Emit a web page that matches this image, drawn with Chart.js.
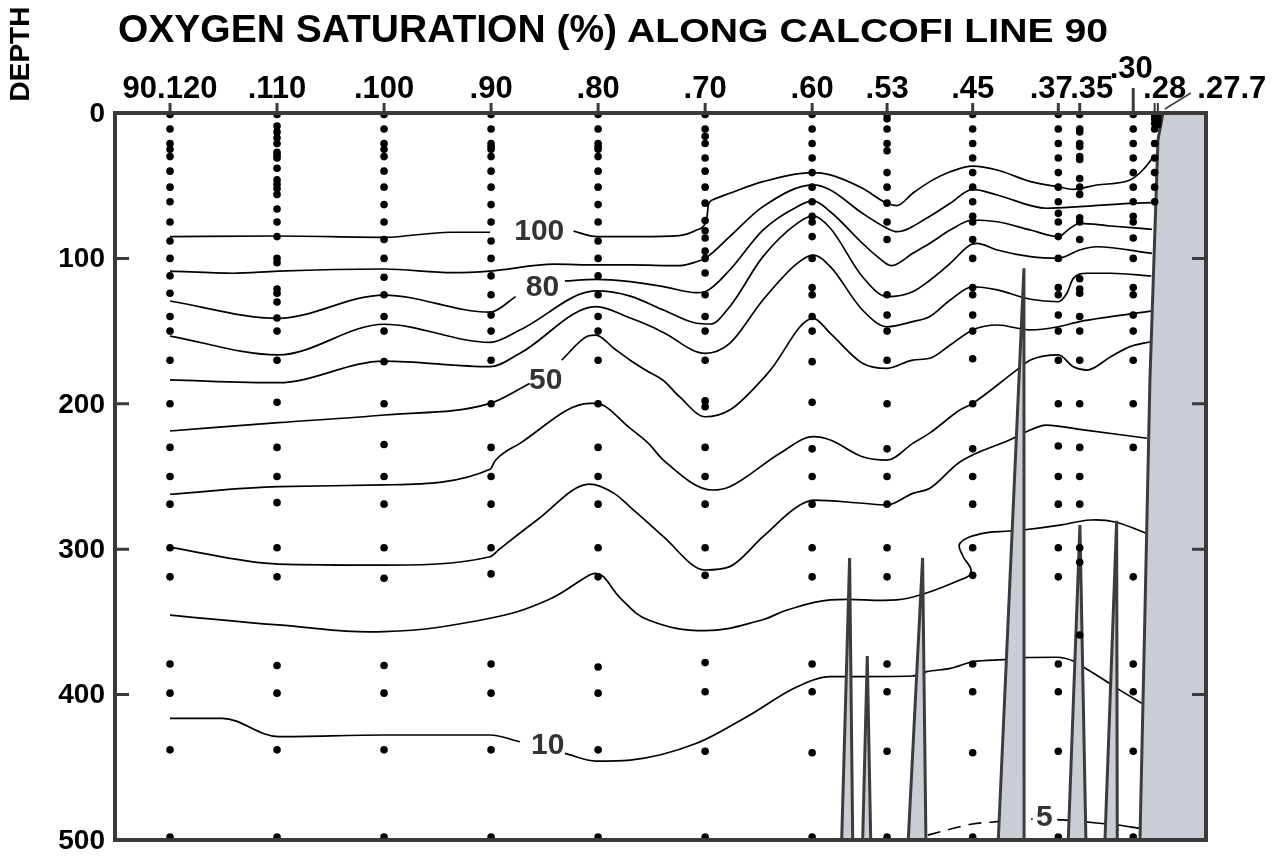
<!DOCTYPE html>
<html><head><meta charset="utf-8">
<script src="https://cdn.jsdelivr.net/npm/chart.js@4.4.1/dist/chart.umd.min.js"></script>
<style>
html,body{margin:0;padding:0;background:#fff;}
#wrap{position:relative;width:1276px;height:858px;}
</style></head>
<body><div id="wrap"><canvas id="c"></canvas></div>
<script>
// ---- stations along CalCOFI line 90 (station number) ----
const stations = [120,110,100,90,80,70,60,53,45,37,35,30,28,27.7];
const stationLabels = ['90.120','.110','.100','.90','.80','.70','.60','.53','.45','.37','.35','.30','.28','.27.7'];
const depthTicks = [0,100,200,300,400,500];

// ---- bottle sample depths (m) per station ----
const bottles120 = [1,11,21,25,30,40,51,61,75,88,100,112,124,140,150,170,200,230,250,269,299,319,379,399,438,498];
const bottles110 = [1,9,13,17,21,27,29,31,38,46,49,52,56,66,75,85,100,103,121,124,130,141,150,170,199,230,250,268,299,319,380,399,438,498];
const bottles100 = [1,11,21,25,30,40,51,63,75,87,100,113,125,140,150,171,200,228,250,269,299,320,380,399,438,498];
const bottles90 = [1,11,21,23,25,30,40,51,63,75,88,100,112,125,139,150,170,200,230,250,269,299,317,379,399,438,498];
const bottles80 = [1,11,21,23,25,30,40,51,63,75,88,100,112,125,140,150,170,200,230,250,269,299,319,381,399,438,498];
const bottles70 = [1,11,16,21,31,40,51,62,74,81,86,95,100,110,125,140,150,170,198,202,230,250,269,299,318,378,398,439,498];
const bottles60 = [1,11,21,31,41,51,61,71,75,85,100,120,125,140,150,171,199,231,250,269,299,319,379,398,440,498];
const bottles53 = [1,4,11,21,26,41,51,62,75,87,125,139,150,170,200,231,250,269,299,319,379,398,439,498];
const bottles45 = [1,11,21,31,41,51,61,71,75,87,100,120,125,139,150,169,200,231,250,269,299,318,379,398,440,498];
const bottles37 = [1,11,21,31,41,51,61,69,75,85,100,120,125,139,150,170,200,229,250,269,299,319,379,398,439,498];
const bottles35 = [1,11,13,21,23,30,32,45,51,56,72,75,87,114,121,124,140,150,170,200,230,250,269,299,309,359];
const bottles30 = [1,11,21,31,41,51,61,71,75,86,100,120,125,139,150,170,200,230,319,379,398,439,498];
const bottles28 = [1,4,7,11,21,31,41,51,61];
const bottles277 = [1,3,5,8];

// ---- oxygen saturation contours: [station, depth] ----
const o2_100a = [[120,85],[109.9,84.6],[100,85.5],[93.8,82],[90.1,82]];
const o2_100b = [[82.3,81.2],[80.1,85],[76.1,85],[72.4,84.3],[70.8,80.5],[70.0,75.9],[69.8,70],[69.7,63.3],[69.2,59.4],[67.7,55.2],[64.6,47.2],[59.9,41],[58.3,42.6],[55.3,51.8],[53.0,62.1],[52.1,63.7],[50.6,55.2],[49.0,47.2],[47.1,40.4],[45.0,36.5],[42.7,39.2],[39.6,47.2],[37.0,50.7],[35.6,52.5],[33.4,49.5],[30.3,46.1],[29.1,39.2],[28.2,31.2],[27.8,28.9]];
const o2_90 = [[120,108.7],[114.1,110.2],[109.9,108.7],[100,107.3],[93.6,109.8],[90.1,108.7],[84.1,104],[80.2,104.5],[77.0,104.5],[72.4,105],[70.8,102.3],[70.0,100],[67.7,85],[64.6,64.4],[59.9,49.5],[58.3,53],[55.3,69],[53.0,79.3],[52.1,81.6],[49.0,71],[47.1,62.1],[45.0,52.5],[42.7,56.4],[38.1,65.5],[35.0,64.4],[30.3,62.1],[28.2,61.7]];
const o2_80a = [[120,129.3],[109.9,141.2],[100,125.2],[90.1,137],[87.7,126.3]];
const o2_80b = [[83.1,115.5],[80.2,114.4],[77.0,116],[73.9,119.4],[70.8,123.6],[70.0,122.9],[67.7,108],[64.6,80.5],[61.4,64.4],[59.9,60.5],[58.3,67.9],[55.3,89.6],[53.9,98.8],[52.6,105],[50.6,96.5],[49.0,89.6],[47.1,80.5],[45.0,73.6],[42.7,74.8],[39.6,80.5],[37.0,85],[35.9,79.3],[35.0,75.9],[32.1,77.7],[28.25,80]];
const o2_70 = [[120,153.4],[109.9,166.4],[100,145.3],[90.1,157.7],[87.3,149.2],[80.2,122.4],[77.0,125.9],[73.9,135.5],[70.8,144.6],[69.5,145.1],[67.7,133.2],[64.6,98.8],[61.4,75.9],[59.9,70.8],[58.3,79.3],[55.3,112.6],[53.0,126.3],[50.6,122.9],[49.0,115],[47.1,103.4],[45.25,90.8],[44.6,89.6],[42.7,94.2],[39.6,98.8],[37.0,99.9],[35.0,94.2],[33.4,92],[28.25,96.5]];
const o2_60 = [[120,183.6],[109.9,185.5],[100,170.6],[90.1,174.5],[87.3,165.3],[80.2,133.2],[77.0,141],[75.3,146],[73.9,151],[70.0,165.3],[67.7,158.4],[64.6,128.6],[61.4,103.4],[59.9,97.7],[58.3,105.7],[55.3,135.5],[53.0,147],[50.6,143.5],[49.0,140],[47.1,128.6],[45.0,119.5],[42.7,121.7],[39.6,128.1],[37.0,129.8],[36.2,124],[35.6,113.7],[34.3,110.2],[32.1,110.2],[28.3,112.1]];
const o2_50a = [[120,218.7],[109.9,213],[100,207.7],[90.1,199.7],[86.4,186]];
const o2_50b = [[83.4,169.9],[80.95,153.4],[80.2,152.7],[78.5,162],[77.0,170],[75.3,178],[73.9,184],[72.4,195.1],[70.0,208.9],[67.7,204.3],[64.7,183.6],[63.9,176.8],[59.9,141.2],[58.3,151.5],[55.3,172.1],[53.0,175.6],[50.6,169.9],[49.0,168.7],[47.1,159.6],[45.0,149.2],[42.7,145.8],[39.6,149.2],[37.0,147],[35.0,143.5],[32.1,140.1],[28.3,136.2]];
const o2_40 = [[120,262.2],[109.9,257],[100,255.8],[90.1,245],[89.6,239],[87.3,227.2],[80.8,199.7],[80.2,199.7],[77.0,216.9],[75.3,227.2],[73.9,238.7],[69.3,259.3],[67.7,257],[63.0,234],[59.9,222.6],[58.3,224.9],[55.3,236.4],[53.0,238.7],[50.6,227.2],[49.0,220],[46.2,204.3],[45.0,199.7],[40.9,176.8],[39.6,169.9],[37.0,166.4],[35.6,174.5],[34.3,176.8],[32.1,167.6],[30.3,160.7],[28.4,157.3]];
const o2_30 = [[120,298.7],[109.9,310.2],[100,310.9],[90.1,305.2],[89.3,300.5],[85.7,279.9],[80.8,255.2],[78.5,261.6],[77.0,271],[75.3,282],[73.9,291.4],[70.0,314.3],[67.7,312],[64.6,291.4],[61.4,270.8],[59.9,266.2],[55.3,268.4],[53.0,269.6],[50.6,261.6],[49.0,258.1],[46.2,240],[41.2,223.7],[40.3,220.3],[38.1,214.6],[35.0,217.6],[28.7,223.7]];
const o2_20 = [[120,345.3],[109.9,352.1],[100,356.7],[90.1,347.5],[84.7,334.9],[80.8,317.7],[80.2,316.6],[79.5,318.9],[77.9,333.8],[75.3,348.7],[70.0,356],[64.7,348.7],[62.35,341.8],[58.3,334.9],[52.1,334.9],[49.4,330.3],[46.2,321.2],[45.3,317.9],[45.2,313],[45.9,305],[46.2,296],[44.3,289.5],[41.5,287.5],[40.3,286.8],[36.85,283.4],[34.0,279.9],[31.7,281.3],[28.4,290.2]];
const o2_10a = [[120,416.3],[115.1,416.3],[109.9,428.9],[100,427.8],[90.1,427.8],[87.3,432.4]];
const o2_10b = [[83.1,440.4],[80.2,445.7],[77.0,445],[70.8,433.5],[66.1,415.2],[61.4,394.6],[58.3,387.7],[57.1,387.7],[50.6,387.2],[49.3,384.2],[47.1,382],[45.0,377.4],[41.8,375.8],[40.3,374.6],[37.1,374.3],[35.6,376.9],[34.7,380.8],[32.45,391.1],[31.5,395.7],[29.2,406]];
const o2_5a = [[49.2,496.6],[46.2,490.9],[45.0,489],[42.7,487.4],[39.4,485.5]];
const o2_5b = [[37.1,486],[35.6,486.7],[34.7,487.4],[32.45,489],[31.5,489.7],[29.4,492]];

// ---- contour labels ----
const contourLabelText = ['100','80','50','10','5'];
const contourLabelStation = [85.5,85.2,84.9,84.7,38.3];
const contourLabelDepth = [81.8,120.4,184.3,435.4,485];

// ---- bathymetry: seamount peaks [left base station, peak station, peak depth, right base station] ----
const seamounts = [[57.24,56.5,306,56.21],[55.28,54.85,373.5,54.53],[51.02,49.68,306,49.37],[42.61,40.21,106.8,40.2],[36.07,34.98,283.4,34.42],[32.64,31.55,280.4,31.49]];
const coastStation = [29.37,28.9,28.44,27.69,27.22];
const coastDepth = [500,341.8,183.6,18.6,0];

// ---- build datasets ----
const bottleSets = [[120,bottles120],[110,bottles110],[100,bottles100],[90,bottles90],[80,bottles80],[70,bottles70],[60,bottles60],[53,bottles53],[45,bottles45],[37,bottles37],[35,bottles35],[30,bottles30],[28,bottles28],[27.7,bottles277]];
const toXY = a => a.map(p => ({x:p[0], y:p[1]}));
const datasets = [];
const dotData = [];
bottleSets.forEach(([s, ds]) => ds.forEach(d => dotData.push({x:s, y:d})));
datasets.push({type:'line', data:dotData, showLine:false, pointRadius:3.8, pointHoverRadius:3.8,
  pointBackgroundColor:'#000', pointBorderWidth:0, order:0, clip:false});

const contourStyle = {type:'line', borderColor:'#000', borderWidth:1.7, pointRadius:0, fill:false,
  cubicInterpolationMode:'monotone', order:3};
[o2_100a,o2_100b,o2_90,o2_80a,o2_80b,o2_70,o2_60,o2_50a,o2_50b,o2_40,o2_30,o2_10a,o2_10b,o2_5b].forEach(c => {
  datasets.push(Object.assign({}, contourStyle, {data:toXY(c)}));
});
datasets.push(Object.assign({}, contourStyle, {data:toXY(o2_20), cubicInterpolationMode:'default', tension:0.4}));
datasets.push(Object.assign({}, contourStyle, {data:toXY(o2_5a), borderDash:[13,8]}));

seamounts.forEach(([l, ps, pd, r]) => {
  datasets.push({type:'line', data:[{x:l,y:500},{x:ps,y:pd},{x:r,y:500}], borderColor:'#3c3c3c', borderWidth:3,
    backgroundColor:'#c9cdd5', fill:{value:500}, pointRadius:0, tension:0, order:1});
});
const coastData = coastStation.map((s,i) => ({x:s, y:coastDepth[i]}));
coastData.push({x:23.2, y:0});
datasets.push({type:'line', data:coastData, borderColor:'#3c3c3c', borderWidth:3, backgroundColor:'#c9cdd5',
  fill:{value:500}, pointRadius:0, tension:0, order:2});

// ---- label layout (pixel nudges for crowded station names) ----
const labelNudge = {'.37':-7, '.35':12, '.30':-2, '.28':10, '.27.7':74};
const FONT = '"Liberation Sans", Arial, Helvetica, sans-serif';

const decor = {
  id:'decor',
  afterDatasetsDraw(chart){
    const {ctx, chartArea:a, scales:{x, y}} = chart;
    ctx.save();
    // contour labels
    ctx.font = 'bold 30px ' + FONT;
    ctx.fillStyle = '#333'; ctx.textAlign = 'center'; ctx.textBaseline = 'middle';
    contourLabelText.forEach((t,i) => ctx.fillText(t, x.getPixelForValue(contourLabelStation[i]), y.getPixelForValue(contourLabelDepth[i])));
    // frame
    ctx.strokeStyle = '#3a3a3a'; ctx.lineWidth = 4;
    ctx.strokeRect(a.left, a.top, a.right - a.left, a.bottom - a.top);
    // depth ticks (inward, both sides)
    ctx.lineWidth = 3;
    depthTicks.forEach(v => {
      if (v === 0 || v === 500) return;
      const py = y.getPixelForValue(v);
      ctx.beginPath();
      ctx.moveTo(a.left, py); ctx.lineTo(a.left + 14, py);
      ctx.moveTo(a.right, py); ctx.lineTo(a.right - 14, py);
      ctx.stroke();
    });
    // depth labels
    ctx.fillStyle = '#000'; ctx.font = 'bold 28px ' + FONT;
    ctx.textAlign = 'right'; ctx.textBaseline = 'middle';
    depthTicks.forEach(v => ctx.fillText(String(v), a.left - 10, y.getPixelForValue(v) + 1));
    // station ticks & labels
    ctx.font = 'bold 31px ' + FONT; ctx.textAlign = 'center'; ctx.textBaseline = 'alphabetic';
    stations.forEach((s,i) => {
      const px = x.getPixelForValue(s);
      const lab = stationLabels[i];
      const raised = lab === '.30';
      const near = lab === '.28' || lab === '.27.7';
      ctx.lineWidth = near ? 2 : 3;
      ctx.beginPath(); ctx.moveTo(px, a.top); ctx.lineTo(px, a.top - (raised ? 25 : 10)); ctx.stroke();
      const lx = px + (labelNudge[lab] || 0);
      ctx.fillText(lab, lx, raised ? a.top - 35 : a.top - 15);
      if (lab === '.27.7') {
        ctx.lineWidth = 1.5;
        ctx.beginPath(); ctx.moveTo(px + 7, a.top - 4); ctx.lineTo(px + 33, a.top - 20); ctx.stroke();
      }
    });
    // title
    ctx.textAlign = 'left'; ctx.fillStyle = '#000';
    ctx.font = 'bold 39px ' + FONT;
    const t1 = 'OXYGEN SATURATION (%)';
    const tx = a.left + 3;
    ctx.fillText(t1, tx, 42);
    const w1 = ctx.measureText(t1).width;
    ctx.font = 'bold 33px ' + FONT;
    const t2 = 'ALONG CALCOFI LINE 90';
    const x2 = tx + w1 + 10;
    const w2 = ctx.measureText(t2).width;
    const target2 = 1108 - x2;
    ctx.save();
    ctx.translate(x2, 42);
    ctx.scale(Math.max(1, Math.min(1.2, target2 / w2)), 1);
    ctx.fillText(t2, 0, 0);
    ctx.restore();
    // axis title
    ctx.font = 'bold 28px ' + FONT;
    ctx.translate(21, 54); ctx.rotate(-Math.PI / 2);
    ctx.textAlign = 'center'; ctx.textBaseline = 'middle';
    ctx.fillText('DEPTH', 0, 0);
    ctx.restore();
  }
};

new Chart(document.getElementById('c'), {
  type:'line',
  data:{datasets},
  options:{
    responsive:true, maintainAspectRatio:false, animation:false, devicePixelRatio:1,
    layout:{padding:{left:115, right:70, top:113, bottom:18}},
    scales:{
      x:{type:'linear', reverse:true, min:23.2, max:125.14, display:false},
      y:{type:'linear', reverse:true, min:0, max:500, display:false}
    },
    plugins:{legend:{display:false}, tooltip:{enabled:false}, title:{display:false}},
    events:[]
  },
  plugins:[decor]
});
</script>
</body></html>
